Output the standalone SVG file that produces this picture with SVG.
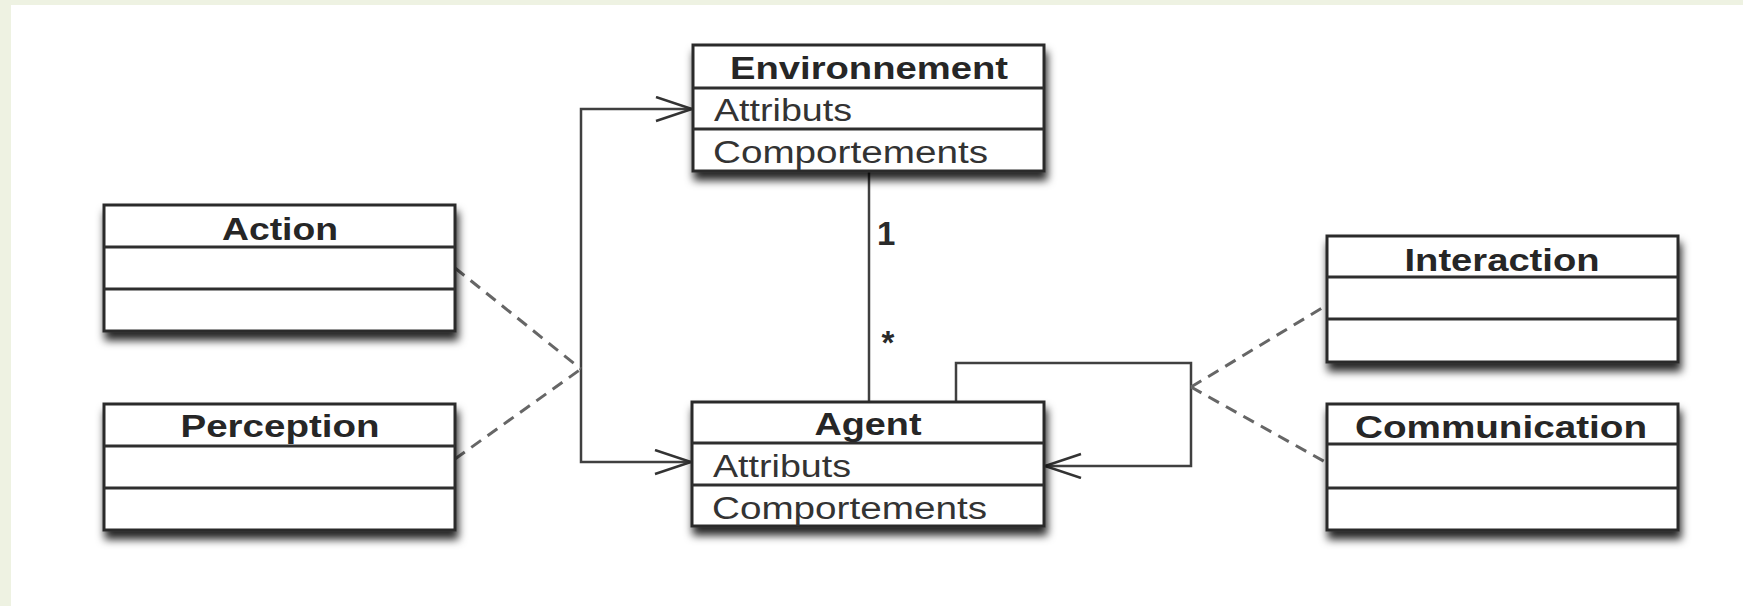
<svg xmlns="http://www.w3.org/2000/svg" width="1743" height="606" viewBox="0 0 1743 606">
  <style>
    .box { fill: #ffffff; stroke: #2a2a2a; stroke-width: 3; }
    .div { stroke: #2e2e2e; stroke-width: 3; }
    .hdr { font-family: "Liberation Sans", Arial, sans-serif; font-weight: bold; font-size: 31px; fill: #262626; text-anchor: middle; }
    .row { font-family: "Liberation Sans", Arial, sans-serif; font-size: 31px; fill: #333333; }
    .conn { fill: none; stroke: #404040; stroke-width: 2.5; }
    .dash { fill: none; stroke: #666666; stroke-width: 3; stroke-dasharray: 12 8; }
    .mult { font-family: "Liberation Sans", Arial, sans-serif; font-weight: bold; font-size: 33px; fill: #2a2a2a; }
  </style>
  <defs>
    <filter id="shadow" x="-5%" y="-10%" width="112%" height="140%">
      <feDropShadow dx="2" dy="8" stdDeviation="4" flood-color="#000000" flood-opacity="0.85"/>
    </filter>
    <marker id="open" markerUnits="userSpaceOnUse" markerWidth="44" markerHeight="30" refX="38" refY="13" orient="auto">
      <path d="M2,1 L38,13 L2,25" fill="none" stroke="#333333" stroke-width="2.5"/>
    </marker>
  </defs>

  <rect x="0" y="0" width="1743" height="606" fill="#ffffff"/>
  <rect x="0" y="0" width="1743" height="5" fill="#eef2e2"/>
  <rect x="0" y="0" width="11" height="606" fill="#eef2e2"/>

  <g id="connectors">
    <path class="conn" d="M581,285 V109 H692" marker-end="url(#open)"/>
    <path class="conn" d="M581,285 V462 H691" marker-end="url(#open)"/>
    <path class="dash" d="M455,268 L581,369"/>
    <path class="dash" d="M455,459 L581,369"/>
    <path class="conn" d="M869,171 V402"/>
    <path class="conn" d="M956,402 V363 H1191 V466 H1045" marker-end="url(#open)"/>
    <path class="dash" d="M1191,387 L1327,305"/>
    <path class="dash" d="M1191,387 L1327,463"/>
    <text class="mult" x="877" y="245">1</text>
    <text class="mult" x="888" y="354" text-anchor="middle">*</text>
  </g>

  <g id="environnement">
    <rect class="box" x="693" y="45" width="351" height="126" filter="url(#shadow)"/>
    <line class="div" x1="693" y1="88" x2="1044" y2="88"/>
    <line class="div" x1="693" y1="129" x2="1044" y2="129"/>
    <text class="hdr" x="869" y="79" textLength="278" lengthAdjust="spacingAndGlyphs">Environnement</text>
    <text class="row" x="714" y="121" textLength="138" lengthAdjust="spacingAndGlyphs">Attributs</text>
    <text class="row" x="713" y="163" textLength="275" lengthAdjust="spacingAndGlyphs">Comportements</text>
  </g>

  <g id="agent">
    <rect class="box" x="692" y="402" width="352" height="124" filter="url(#shadow)"/>
    <line class="div" x1="692" y1="443" x2="1044" y2="443"/>
    <line class="div" x1="692" y1="485" x2="1044" y2="485"/>
    <text class="hdr" x="868" y="435" textLength="107" lengthAdjust="spacingAndGlyphs">Agent</text>
    <text class="row" x="713" y="477" textLength="138" lengthAdjust="spacingAndGlyphs">Attributs</text>
    <text class="row" x="712" y="519" textLength="275" lengthAdjust="spacingAndGlyphs">Comportements</text>
  </g>

  <g id="action">
    <rect class="box" x="104" y="205" width="351" height="126" filter="url(#shadow)"/>
    <line class="div" x1="104" y1="247" x2="455" y2="247"/>
    <line class="div" x1="104" y1="289" x2="455" y2="289"/>
    <text class="hdr" x="280" y="240" textLength="116" lengthAdjust="spacingAndGlyphs">Action</text>
  </g>

  <g id="perception">
    <rect class="box" x="104" y="404" width="351" height="126" filter="url(#shadow)"/>
    <line class="div" x1="104" y1="446" x2="455" y2="446"/>
    <line class="div" x1="104" y1="488" x2="455" y2="488"/>
    <text class="hdr" x="280" y="437" textLength="199" lengthAdjust="spacingAndGlyphs">Perception</text>
  </g>

  <g id="interaction">
    <rect class="box" x="1327" y="236" width="351" height="126" filter="url(#shadow)"/>
    <line class="div" x1="1327" y1="277" x2="1678" y2="277"/>
    <line class="div" x1="1327" y1="319" x2="1678" y2="319"/>
    <text class="hdr" x="1502" y="271" textLength="195" lengthAdjust="spacingAndGlyphs">Interaction</text>
  </g>

  <g id="communication">
    <rect class="box" x="1327" y="404" width="351" height="126" filter="url(#shadow)"/>
    <line class="div" x1="1327" y1="444" x2="1678" y2="444"/>
    <line class="div" x1="1327" y1="488" x2="1678" y2="488"/>
    <text class="hdr" x="1501" y="438" textLength="292" lengthAdjust="spacingAndGlyphs">Communication</text>
  </g>
</svg>
